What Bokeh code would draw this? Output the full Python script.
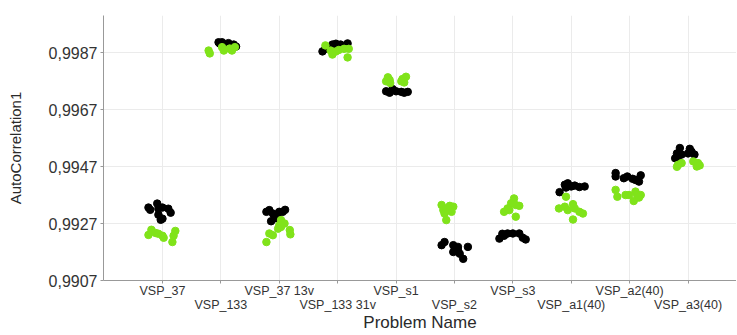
from bokeh.plotting import figure
from bokeh.models import (Range1d, FixedTicker, LinearAxis, CustomJSTickFormatter,
                          ColumnDataSource)
from bokeh.embed import file_html
from bokeh.resources import INLINE

categories = ["VSP_37", "VSP_133", "VSP_37 13v", "VSP_133 31v", "VSP_s1",
              "VSP_s2", "VSP_s3", "VSP_a1(40)", "VSP_a2(40)", "VSP_a3(40)"]

y_ticks = [0.9907, 0.9927, 0.9947, 0.9967, 0.9987]

# AutoCorrelation1 values per problem (black series)
black_values = [
    [0.99326, 0.99318, 0.99340, 0.99322, 0.99326, 0.99322, 0.99308, 0.99301, 0.99287, 0.99283],
    [0.99906, 0.99906, 0.99895, 0.99903, 0.99895, 0.99898, 0.99891, 0.99902],
    [0.99311, 0.99317, 0.99305, 0.99300, 0.99311, 0.99311, 0.99318, 0.99288, 0.99278, 0.99294],
    [0.99874, 0.99883, 0.99898, 0.99901, 0.99898, 0.99902, 0.99893, 0.99889],
    [0.99734, 0.99729, 0.99742, 0.99734, 0.99732, 0.99729, 0.99732],
    [0.99194, 0.99205, 0.99194, 0.99182, 0.99188, 0.99170, 0.99164, 0.99146, 0.99188, 0.99176],
    [0.99217, 0.99234, 0.99227, 0.99235, 0.99235, 0.99235, 0.99220, 0.99214],
    [0.99380, 0.99406, 0.99411, 0.99396, 0.99400, 0.99403, 0.99398, 0.99400],
    [0.99447, 0.99435, 0.99429, 0.99435, 0.99427, 0.99423, 0.99439, 0.99417],
    [0.99535, 0.99516, 0.99504, 0.99499, 0.99512, 0.99532, 0.99522, 0.99512, 0.99516],
]
# horizontal jitter (category units)
black_jitter = [
    [-0.24, -0.21, -0.09, -0.07, 0.0, 0.10, 0.14, -0.07, 0.0, -0.03],
    [-0.04, 0.02, 0.07, 0.13, 0.15, 0.22, 0.26, -0.02],
    [-0.22, -0.17, -0.11, -0.05, 0.0, 0.06, 0.10, -0.08, -0.14, -0.03],
    [-0.26, -0.21, -0.09, -0.03, 0.05, 0.17, 0.0, -0.15],
    [-0.17, -0.11, -0.06, 0.0, 0.09, 0.14, 0.20],
    [-0.22, -0.17, -0.02, 0.01, 0.06, -0.02, 0.09, 0.15, 0.23, 0.06],
    [-0.23, -0.18, -0.15, -0.09, 0.0, 0.11, 0.17, 0.22],
    [-0.20, -0.11, -0.06, -0.09, 0.0, 0.06, 0.14, 0.23],
    [-0.24, -0.24, -0.10, -0.04, 0.05, 0.10, 0.19, 0.16],
    [-0.14, -0.19, -0.17, -0.22, -0.11, 0.03, 0.06, 0.11, 0.0],
]

# green series
green_values = [
    [0.99248, 0.99230, 0.99237, 0.99234, 0.99220, 0.99227, 0.99205, 0.99227, 0.99244],
    [0.99877, 0.99867, 0.99889, 0.99877, 0.99884, 0.99877, 0.99889],
    [0.99282, 0.99270, 0.99264, 0.99258, 0.99252, 0.99235, 0.99229, 0.99205, 0.99247, 0.99232],
    [0.99895, 0.99877, 0.99863, 0.99874, 0.99879, 0.99883, 0.99883, 0.99853],
    [0.99769, 0.99783, 0.99774, 0.99763, 0.99777, 0.99765, 0.99785, 0.99769],
    [0.99335, 0.99317, 0.99323, 0.99332, 0.99329, 0.99311, 0.99305, 0.99282],
    [0.99358, 0.99341, 0.99335, 0.99332, 0.99323, 0.99311, 0.99317, 0.99294],
    [0.99364, 0.99323, 0.99329, 0.99317, 0.99338, 0.99323, 0.99311, 0.99305, 0.99284],
    [0.99388, 0.99364, 0.99370, 0.99370, 0.99382, 0.99370, 0.99370, 0.99349, 0.99361],
    [0.99476, 0.99482, 0.99469, 0.99488, 0.99482, 0.99470, 0.99474],
]
green_jitter = [
    [-0.19, -0.24, -0.12, -0.07, 0.02, 0.0, 0.17, 0.19, 0.22],
    [-0.21, -0.19, 0.02, 0.05, 0.15, 0.19, 0.24],
    [0.03, 0.09, 0.0, 0.03, -0.02, -0.17, -0.11, -0.22, 0.18, 0.19],
    [-0.21, -0.12, -0.09, -0.03, 0.02, 0.11, 0.19, 0.17],
    [-0.17, -0.14, -0.11, -0.10, 0.11, 0.14, 0.17, 0.09],
    [-0.22, -0.19, -0.14, -0.08, -0.02, -0.05, -0.17, -0.14],
    [0.02, -0.03, 0.05, 0.11, -0.09, -0.15, -0.06, 0.05],
    [-0.09, -0.21, -0.11, -0.06, 0.03, 0.06, 0.14, 0.20, 0.03],
    [-0.24, -0.21, -0.07, -0.01, 0.10, 0.13, 0.19, 0.07, 0.16],
    [-0.17, -0.11, -0.19, 0.09, 0.17, 0.15, 0.20],
]


def build(values, jitter):
    xs, ys = [], []
    for i, (vals, offs) in enumerate(zip(values, jitter)):
        for v, o in zip(vals, offs):
            xs.append(i + o)
            ys.append(v)
    return ColumnDataSource(dict(x=xs, y=ys))


FONT = "Liberation Sans"

p = figure(width=736, height=334,
           x_range=Range1d(-1.01, 9.83), y_range=Range1d(0.9907, 1.0000),
           output_backend="svg", toolbar_location=None,
           min_border_left=103, min_border_top=15, min_border_right=0, min_border_bottom=0)
p.outline_line_color = None

p.scatter("x", "y", source=build(black_values, black_jitter), size=7.5,
          fill_color="black", line_color="black")
p.scatter("x", "y", source=build(green_values, green_jitter), size=7.5,
          fill_color="#80e31a", line_color="#80e31a")

# y axis
ya = p.yaxis[0]
ya.ticker = FixedTicker(ticks=y_ticks)
ya.formatter = CustomJSTickFormatter(code="return tick.toFixed(4).replace('.', ',');")
ya.axis_label = "AutoCorrelation1"
ya.axis_label_text_font = FONT
ya.axis_label_text_font_size = "15px"
ya.axis_label_text_font_style = "normal"
ya.axis_label_text_color = "#2a2a2a"
ya.axis_label_standoff = 22
ya.major_label_text_font = FONT
ya.major_label_text_font_size = "16px"
ya.major_label_text_color = "#333333"
ya.major_tick_out = 3
ya.major_tick_in = 0
ya.minor_tick_line_color = None
ya.major_label_standoff = 3
ya.axis_line_color = "#999999"
ya.major_tick_line_color = "#999999"

# x axis, first row
xa = p.xaxis[0]
xa.ticker = FixedTicker(ticks=list(range(len(categories))))
xa.major_label_overrides = {i: (c if i % 2 == 0 else "") for i, c in enumerate(categories)}
xa.major_label_text_font = FONT
xa.major_label_text_font_size = "12.5px"
xa.major_label_text_color = "#333333"
xa.major_tick_out = 3
xa.major_tick_in = 0
xa.minor_tick_line_color = None
xa.major_label_standoff = 0
xa.axis_line_color = "#999999"
xa.major_tick_line_color = "#999999"

# x axis, second row
xb = LinearAxis(ticker=FixedTicker(ticks=[i for i in range(len(categories)) if i % 2 == 1]),
                major_label_overrides={i: c for i, c in enumerate(categories) if i % 2 == 1})
xb.major_label_text_font = FONT
xb.major_label_text_font_size = "12.5px"
xb.major_label_text_color = "#333333"
xb.axis_line_color = None
xb.major_tick_line_color = None
xb.minor_tick_line_color = None
xb.major_tick_out = 0
xb.major_tick_in = 0
xb.major_label_standoff = -3
xb.axis_label = "Problem Name"
xb.axis_label_text_font = FONT
xb.axis_label_text_font_size = "17px"
xb.axis_label_text_font_style = "normal"
xb.axis_label_text_color = "#2a2a2a"
xb.axis_label_standoff = -2
p.add_layout(xb, "below")

p.xgrid.ticker = FixedTicker(ticks=list(range(len(categories))))
p.xgrid.grid_line_color = "#ebebeb"
p.ygrid.ticker = FixedTicker(ticks=y_ticks)
p.ygrid.grid_line_color = "#ebebeb"

open("out.html", "w").write(file_html(p, INLINE))
